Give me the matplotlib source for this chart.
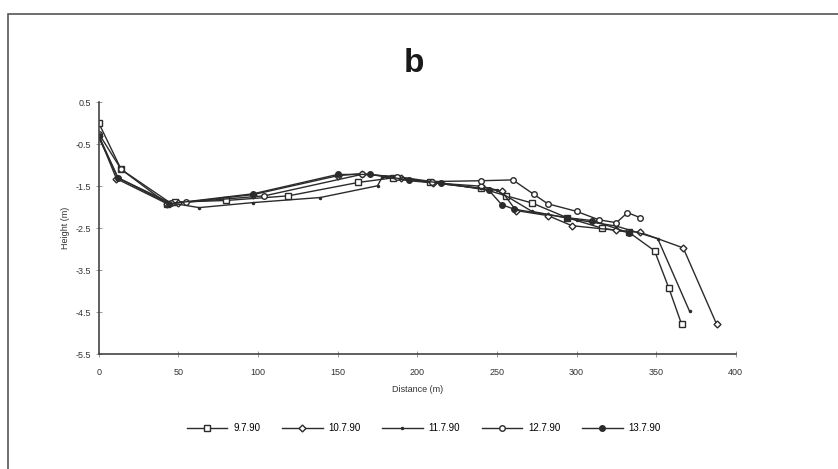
import numpy as np
import matplotlib
matplotlib.use("Agg")
import matplotlib.pyplot as plt
from matplotlib.patches import Rectangle

plt.rcParams['font.family'] = ['Liberation Sans', 'DejaVu Sans']

# survey profiles (distance m, height m)
x_9790 = [0, 14, 43, 48, 80, 119, 163, 185, 208, 240, 256, 272, 294, 316, 333, 349, 358, 366]
y_9790 = [0.0, -1.1, -1.92, -1.88, -1.84, -1.73, -1.41, -1.3, -1.41, -1.55, -1.73, -1.9, -2.25, -2.5, -2.6, -3.04, -3.93, -4.79]

x_10790 = [0, 11, 43, 50, 97, 150, 165, 190, 210, 240, 253, 262, 282, 297, 325, 340, 367, 388]
y_10790 = [-0.3, -1.32, -1.92, -1.9, -1.7, -1.25, -1.2, -1.3, -1.42, -1.5, -1.62, -2.08, -2.2, -2.44, -2.55, -2.6, -2.97, -4.79]

x_11790 = [0, 12, 45, 63, 97, 139, 175, 178, 195, 210, 250, 272, 300, 325, 351, 371]
y_11790 = [-0.35, -1.3, -1.9, -2.01, -1.89, -1.77, -1.49, -1.28, -1.37, -1.42, -1.6, -2.1, -2.3, -2.45, -2.75, -4.48]

x_12790 = [0, 14, 45, 55, 104, 165, 187, 209, 240, 260, 273, 282, 300, 314, 325, 332, 340]
y_12790 = [-0.25, -1.1, -1.9, -1.88, -1.73, -1.22, -1.27, -1.39, -1.37, -1.35, -1.69, -1.92, -2.1, -2.3, -2.37, -2.13, -2.25]

x_13790 = [0, 12, 44, 97, 150, 170, 195, 215, 245, 253, 261, 294, 310, 333]
y_13790 = [-0.3, -1.3, -1.92, -1.68, -1.22, -1.22, -1.35, -1.42, -1.6, -1.94, -2.05, -2.25, -2.32, -2.61]

y_ticks = [0.5, -0.5, -1.5, -2.5, -3.5, -4.5, -5.5]
x_ticks = [0, 50, 100, 150, 200, 250, 300, 350, 400]

fig = plt.figure(figsize=(8.38, 4.69), dpi=100)
ax = fig.add_axes([0.118, 0.245, 0.760, 0.537])

col = '#2b2b2b'
ax.plot(x_9790, y_9790, color=col, lw=1, marker='s', ms=4, mfc='white', mec=col, label='9.7.90')
ax.plot(x_10790, y_10790, color=col, lw=1, marker='D', ms=3.5, mfc='white', mec=col, label='10.7.90')
ax.plot(x_11790, y_11790, color=col, lw=1, marker='.', ms=3, mfc=col, mec=col, label='11.7.90')
ax.plot(x_12790, y_12790, color=col, lw=1, marker='o', ms=4, mfc='white', mec=col, label='12.7.90')
ax.plot(x_13790, y_13790, color=col, lw=1, marker='o', ms=4, mfc=col, mec=col, label='13.7.90')

ax.set_xlim(0, 400)
ax.set_ylim(-5.5, 0.5)
ax.set_xticks(x_ticks)
ax.set_yticks(y_ticks)
ax.set_yticklabels([str(v) for v in y_ticks])
for s in ['top', 'right']:
    ax.spines[s].set_visible(False)
for s in ['left', 'bottom']:
    ax.spines[s].set_color('#444444')
    ax.spines[s].set_linewidth(1.2)
ax.tick_params(direction='inout', length=4, width=0.6, colors='#888888', labelcolor='#333333', labelsize=6.5)
ax.tick_params(axis='x', pad=8)

ax.set_xlabel('Distance (m)', fontsize=6.5, color='#333333', labelpad=6)
ax.set_ylabel('Height (m)', fontsize=6.5, color='#333333', labelpad=4)

ax.legend(loc='upper center', bbox_to_anchor=(0.51, -0.24), ncol=5, frameon=False,
          fontsize=7, handlelength=4.2, columnspacing=2.2, handletextpad=0.6)

fig.text(0.494, 0.865, 'b', fontsize=24, fontweight='bold', ha='center', va='center', color='#1a1a1a')

frame = Rectangle((0.0095, -0.02), 1.0, 0.99, transform=fig.transFigure, fill=False,
                  edgecolor='#555555', lw=1.2)
fig.patches.append(frame)

fig.savefig('out.png', dpi=100)
